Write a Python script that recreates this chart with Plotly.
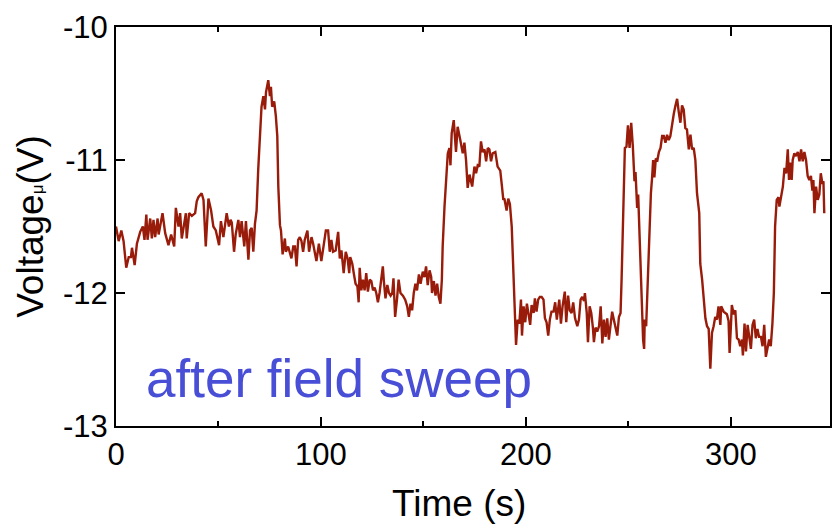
import plotly.graph_objects as go

# Time (s) and voltage values
time_s = [
    0.0, 1.3, 2.6, 3.7, 5.0, 6.2, 7.3, 7.8, 9.1, 10.2, 11.8, 13.1, 13.9, 14.8, 15.4,
    16.7, 17.5, 18.3, 19.1, 20.3, 20.8, 22.7, 24.0, 25.6, 26.9, 28.4, 29.2, 30.5, 31.3,
    32.1, 34.1, 34.5, 35.7, 37.0, 38.6, 39.4, 40.2, 41.8, 42.7, 43.8, 45.1, 46.4, 47.5,
    48.7, 50.3, 51.2, 52.4, 54.0, 55.1, 55.9,
    56.5, 57.6, 58.4, 59.7, 60.5, 61.3, 62.6, 63.4, 64.6, 65.4, 66.2, 67.0, 67.8, 68.6,
    69.4, 70.2, 71.0, 71.9, 72.7, 73.2, 74.3, 75.1, 75.6, 76.2, 77.2, 78.0, 78.7, 79.2,
    80.0, 80.5, 81.3, 82.4, 82.9, 84.0, 84.8, 85.6, 86.5, 87.3, 88.1, 88.9, 89.7, 90.5,
    91.3, 92.1, 93.4, 94.2, 95.4, 96.2, 97.8, 99.0, 100.2, 101.5, 102.4, 103.5, 104.3,
    105.1, 105.9, 107.2, 108.4, 109.2, 110.0, 111.1, 112.1,
    113.0, 113.8, 114.3, 115.3, 116.0, 116.9, 117.8, 118.4, 118.9, 119.7, 120.5, 121.3,
    122.1, 122.9, 123.8, 124.6, 125.4, 126.2, 127.0, 127.8, 128.6, 129.4, 130.2, 130.7,
    131.5, 132.4, 133.2, 134.0, 134.8, 135.4, 136.2, 137.1, 137.9, 138.8, 140.0, 141.1,
    142.1, 142.9, 143.7, 144.5, 145.3, 146.1, 146.9, 147.8, 148.6, 149.7, 150.5, 151.3,
    152.1, 153.0, 153.8, 154.2, 155.1, 155.9, 156.7, 157.5, 158.3, 159.0, 159.4, 160.3,
    161.1, 161.9, 162.7, 163.2, 163.8, 164.8, 165.9, 166.7, 168.0,
    169.2, 170.0, 170.8, 171.6, 172.5, 173.8, 174.9, 175.7, 176.5, 177.3, 178.1, 178.9,
    179.8, 180.6, 181.4, 182.2, 183.0, 183.8, 185.1, 186.2, 187.5, 188.2, 189.0, 189.5,
    190.0, 190.6, 191.4, 192.2, 193.1, 193.9, 194.4, 195.2, 196.0, 196.8, 197.6, 198.1,
    198.9, 199.7, 200.5, 201.3, 202.1, 202.8, 203.8, 204.4, 205.2, 206.0, 206.8, 207.7,
    208.6, 209.3, 210.1, 210.9, 211.7, 212.5, 213.5, 214.3, 215.1, 216.3, 217.1, 217.9,
    219.0, 219.7, 220.6, 221.4, 222.3, 223.1, 224.0,
    225.1, 225.9, 226.7, 227.5, 228.4, 228.8, 229.7, 230.3, 231.1, 231.9, 232.7, 233.2,
    234.0, 234.8, 235.7, 236.5, 237.3, 238.1, 238.9, 239.7, 240.5, 241.3, 242.1, 242.9,
    243.8, 244.6, 245.4, 246.2, 246.7, 247.3, 247.8, 248.3, 249.1, 249.8, 250.6, 251.4,
    252.2, 253.0, 253.5, 254.3, 254.8, 255.6, 256.3, 256.7, 257.2, 257.7, 258.0, 258.7,
    259.2, 259.7, 260.3, 261.0, 261.6, 262.1, 262.7, 263.4, 264.2, 264.9, 265.7, 266.5,
    267.3, 268.1, 268.9, 269.7, 270.5, 271.3, 272.2, 273.0, 273.8, 274.6, 275.4, 276.2,
    277.0, 277.8, 278.6, 279.5, 280.3, 281.1, 281.9, 282.7, 283.5, 284.6, 285.1,
    286.0, 286.8, 287.6, 288.4, 289.2, 290.0, 290.8, 291.6, 292.4, 293.2, 294.0, 294.9,
    295.3, 296.5, 297.3, 298.1, 298.9, 299.4, 300.1, 300.5, 301.4, 302.2, 303.0, 303.8,
    304.6, 305.4, 305.9, 306.7, 307.4, 308.2, 309.0, 309.8, 310.6, 311.4, 312.2, 313.0,
    313.8, 314.7, 315.5, 316.3, 317.1, 317.9, 318.7, 319.5, 320.3, 321.0, 321.6, 322.4,
    323.3, 323.7, 324.5, 325.4, 326.2, 327.0, 327.8, 328.4, 328.9, 329.7, 330.2, 331.0,
    331.8, 332.7, 333.5, 334.3, 335.1, 335.9, 336.7, 337.5, 338.3, 339.1, 339.8, 340.3,
    340.8, 341.6, 342.4, 343.2, 343.9, 344.7, 345.2, 345.6,
]

voltage_v = [
    -11.50, -11.61, -11.53, -11.61, -11.81, -11.73, -11.73, -11.66, -11.79, -11.63, -11.54, -11.50, -11.60, -11.41, -11.60,
    -11.44, -11.59, -11.45, -11.58, -11.44, -11.56, -11.40, -11.55, -11.64, -11.56, -11.65, -11.36, -11.50, -11.40,
    -11.59, -11.40, -11.59, -11.40, -11.42, -11.40, -11.31, -11.28, -11.25, -11.30, -11.65, -11.29, -11.38, -11.50,
    -11.53, -11.64, -11.46, -11.58, -11.40, -11.50, -11.45,
    -11.47, -11.69, -11.56, -11.45, -11.58, -11.46, -11.65, -11.46, -11.75, -11.53, -11.51, -11.69, -11.48, -11.38,
    -11.07, -10.77, -10.60, -10.52, -10.62, -10.49, -10.40, -10.52, -10.45, -10.60, -10.56, -10.67, -10.82, -11.20,
    -11.49, -11.53, -11.71, -11.59, -11.69, -11.65, -11.69, -11.74, -11.65, -11.65, -11.80, -11.60, -11.58, -11.61,
    -11.69, -11.60, -11.53, -11.69, -11.58, -11.63, -11.76, -11.63, -11.76, -11.63, -11.53, -11.53, -11.69,
    -11.60, -11.69, -11.68, -11.54, -11.74, -11.68, -11.85, -11.69,
    -11.74, -11.85, -11.73, -11.78, -11.85, -11.93, -11.95, -12.07, -11.81, -11.98, -11.90, -11.98,
    -11.85, -11.99, -11.90, -11.91, -11.98, -11.96, -12.00, -12.07, -12.00, -11.91, -11.80, -11.91,
    -12.04, -11.94, -12.00, -12.02, -12.00, -11.89, -12.18, -12.05, -11.90, -12.00, -12.02, -12.05,
    -12.10, -12.18, -12.08, -12.13, -12.00, -11.93, -11.98, -11.86, -11.93, -11.84, -11.88, -11.80,
    -11.94, -11.83, -11.88, -12.00, -11.91, -12.02, -11.93, -12.03, -12.08, -11.90, -11.65, -11.35,
    -11.13, -10.95, -10.91, -11.04, -10.80, -10.70, -10.94, -10.75, -10.85,
    -10.95, -10.87, -11.00, -11.21, -11.11, -11.20, -11.05, -11.10, -11.04, -11.05, -10.86, -10.94,
    -10.92, -11.01, -10.91, -10.92, -11.01, -10.95, -10.94, -11.05, -11.08, -11.18, -11.30, -11.29,
    -11.33, -11.38, -11.29, -11.33, -11.50, -11.88, -12.15, -12.39, -12.20, -12.23, -12.05, -12.32,
    -12.10, -12.22, -12.08, -12.15, -12.24, -12.09, -12.15, -12.04, -12.14, -12.05, -12.03, -12.03,
    -12.05, -12.19, -12.22, -12.32, -12.20, -12.14, -12.14, -12.07, -12.20, -12.05, -12.23, -12.10,
    -11.99, -12.22, -12.02, -12.13, -12.15, -12.07, -12.19,
    -12.25, -12.20, -12.05, -12.03, -12.06, -12.00, -12.15, -12.37, -12.10, -12.15, -12.26, -12.37,
    -12.26, -12.29, -12.25, -12.10, -12.38, -12.20, -12.33, -12.19, -12.35, -12.25, -12.14, -12.20,
    -12.26, -12.32, -12.18, -12.15, -11.90, -11.53, -11.25, -10.91, -10.90, -10.74, -10.91, -10.72,
    -10.90, -11.16, -11.09, -11.36, -11.26, -11.63, -11.90, -12.15, -12.35, -12.42, -12.20, -12.25,
    -12.00, -11.74, -11.45, -11.25, -11.13, -11.00, -11.13, -10.99, -11.00, -10.94, -10.91, -10.82,
    -10.82, -10.87, -10.81, -10.85, -10.82, -10.72, -10.65, -10.59, -10.54, -10.64, -10.72, -10.59,
    -10.62, -10.76, -10.77, -10.92, -10.81, -10.92, -10.91, -11.00, -11.25, -11.40, -11.78,
    -11.90, -12.05, -12.19, -12.25, -12.27, -12.57, -12.30, -12.25, -12.18, -12.20, -12.10, -12.24,
    -12.10, -12.14, -12.15, -12.16, -12.21, -12.45, -12.23, -12.09, -12.16, -12.13, -12.34, -12.35,
    -12.40, -12.35, -12.47, -12.23, -12.44, -12.24, -12.33, -12.42, -12.24, -12.20, -12.34, -12.27,
    -12.33, -12.33, -12.40, -12.24, -12.48, -12.40, -12.35, -12.40, -12.23, -12.00, -11.50, -11.30,
    -11.28, -11.35, -11.29, -11.20, -11.06, -11.10, -10.92, -11.15, -11.02, -11.15, -11.00, -10.95,
    -10.97, -10.94, -11.01, -10.92, -11.01, -10.94, -11.00, -11.12, -11.15, -11.12, -11.23, -11.15,
    -11.40, -11.20, -11.30, -11.26, -11.10, -11.18, -11.16, -11.40,
]

x_ticks = [0, 100, 200, 300]
x_minor_ticks = [50, 150, 250]
y_ticks = [-13, -12, -11, -10]
y_tick_labels = ["-13", "-12", "-11", "-10"]

FONT = "Liberation Sans, Arial, Helvetica, sans-serif"

fig = go.Figure()
fig.add_trace(go.Scatter(
    x=time_s, y=voltage_v, mode="lines",
    line=dict(color="rgb(153,27,10)", width=2.4),
    hoverinfo="skip",
))

axis_common = dict(
    showline=True, linecolor="black", linewidth=2, mirror="ticks",
    ticks="inside", tickcolor="black", tickwidth=2, ticklen=9,
    showgrid=False, zeroline=False,
    tickfont=dict(family=FONT, size=31, color="black"),
)

fig.update_xaxes(
    range=[0, 348.4], tickvals=x_ticks,
    minor=dict(tickvals=x_minor_ticks, ticks="inside", ticklen=5, tickwidth=2,
               tickcolor="black", showgrid=False),
    **axis_common,
)
fig.update_yaxes(
    range=[-13, -10], tickvals=y_ticks, ticktext=y_tick_labels,
    title=dict(text="Voltage<span style='font-size:17px'>μ</span>(V)",
               font=dict(family=FONT, size=37, color="black"), standoff=8),
    **axis_common,
)

# x-axis title placed as in the reference (slightly left of centre)
fig.add_annotation(
    x=0.481, y=-0.193, xref="paper", yref="paper", xanchor="center", yanchor="middle",
    text="Time (s)", showarrow=False,
    font=dict(family=FONT, size=37, color="black"),
)

fig.add_annotation(
    x=13.6, y=-12.64, xref="x", yref="y", xanchor="left", yanchor="middle",
    text="after field sweep", showarrow=False,
    font=dict(family=FONT, size=53, color="rgb(72,78,214)"),
)

fig.update_layout(
    width=834, height=524,
    margin=dict(l=116, r=2, t=27, b=98),
    plot_bgcolor="white", paper_bgcolor="white",
    showlegend=False,
)

fig.write_html("out.html")
